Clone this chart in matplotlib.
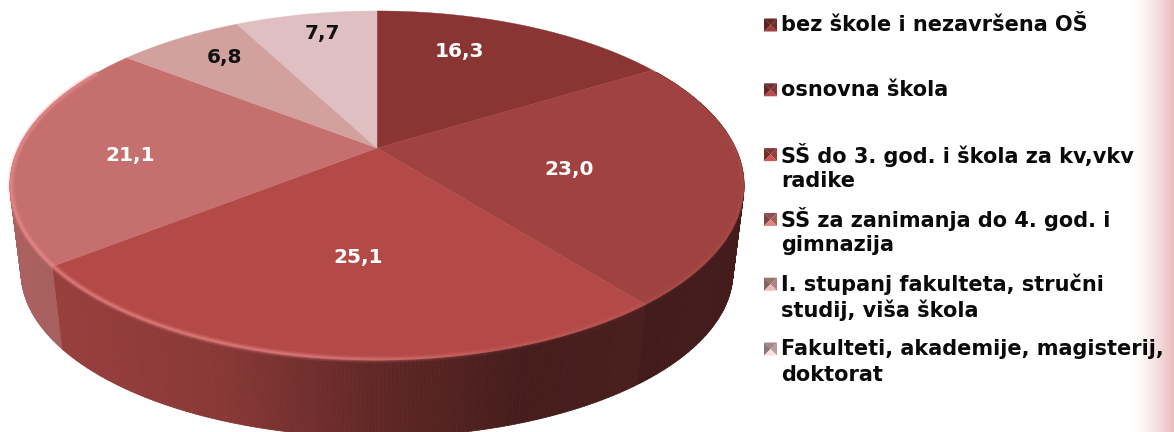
import numpy as np
import matplotlib
matplotlib.use('Agg')
import matplotlib.pyplot as plt
from matplotlib.patches import Polygon
from matplotlib.collections import PolyCollection, LineCollection

# data
kategorije = ['bez škole i nezavršena OŠ',
              'osnovna škola',
              'SŠ do 3. god. i škola za kv,vkv\nradike',
              'SŠ za zanimanja do 4. god. i\ngimnazija',
              'I. stupanj fakulteta, stručni\nstudij, viša škola',
              'Fakulteti, akademije, magisterij,\ndoktorat']
postotci = [16.3, 23.0, 25.1, 21.1, 6.8, 7.7]
oznake = ['16,3', '23,0', '25,1', '21,1', '6,8', '7,7']

# styles
boje = ['#8A3534', '#A04240', '#B44A48', '#C5706E', '#D2A19E', '#DFBFC1']
boje_oznaka = ['white', 'white', 'white', 'white', '#111111', '#111111']
oznake_xy = [(459, 51), (569, 169), (358, 258), (130, 156), (225, 57), (322, 34)]


def rim(kut, cy, R, S, r=1.0, k=0.215, cx=377):
    # perspective projection of a disc, kut in degrees clockwise from top
    t = np.radians(kut)
    u = r * np.sin(t)
    v = -r * np.cos(t)
    w = 1 - k * v
    return cx + R * u / w, cy + S * v / w


def gornji(kut):
    return rim(kut, 148, 358.4, 166.5)


def donji(kut):
    return rim(kut, 236.5, 347.6, 157.4)


def rgb(c, f=1.0):
    return np.clip(np.array(matplotlib.colors.to_rgb(c)) * f, 0, 1)


fig = plt.figure(figsize=(11.74, 4.32), dpi=100)
ax = fig.add_axes([0, 0, 1, 1])
ax.set_xlim(0, 1174)
ax.set_ylim(432, 0)
ax.axis('off')

# pink band on right edge
grad = np.linspace(0, 1, 64).reshape(1, -1) ** 1.3
band = np.ones((1, 64, 3)) * (1 - grad[..., None] * (1 - np.array([0.92, 0.74, 0.75])))
ax.imshow(band, extent=(1133, 1174, 432, 0), aspect='auto', zorder=0)
ax.set_xlim(0, 1174)
ax.set_ylim(432, 0)

granice = np.cumsum([0] + postotci) * 3.6

# side of the pie
poly = []
cols = []
for i in range(len(postotci)):
    n = max(int((granice[i + 1] - granice[i]) * 2), 2)
    kutovi = np.linspace(granice[i], granice[i + 1], n + 1)
    for a, b in zip(kutovi[:-1], kutovi[1:]):
        if a > 300 or b < 60:
            continue
        x1, y1 = gornji(a)
        x2, y2 = gornji(b)
        x3, y3 = donji(b)
        x4, y4 = donji(a)
        poly.append([(x1, y1), (x2, y2), (x3, y3), (x4, y4)])
        f = np.interp((x1 + x2) / 2, [10, 60, 220, 380, 520, 745],
                      [0.87, 0.84, 0.76, 0.53, 0.39, 0.42])
        cols.append(rgb(boje[i], f))
ax.add_collection(PolyCollection(poly, facecolors=cols, edgecolors=cols, linewidths=0.6, zorder=1))

# top of the pie
for i in range(len(postotci)):
    kutovi = np.linspace(granice[i], granice[i + 1], 120)
    x, y = gornji(kutovi)
    xy = np.column_stack([np.r_[377, x], np.r_[148, y]])
    ax.add_patch(Polygon(xy, closed=True, facecolor=boje[i], edgecolor=boje[i], linewidth=0.3, zorder=2))

# light edge along the front rim
for sirina, jacina in [(5.0, 0.18), (3.0, 0.3), (1.5, 0.35)]:
    kutovi = np.linspace(85, 300, 400)
    for r_pom in [0.997]:
        x, y = rim(kutovi, 148, 358.4, 166.5, r=r_pom)
    seg = [[(x[j], y[j]), (x[j + 1], y[j + 1])] for j in range(len(x) - 1)]
    alfa = jacina * np.interp(x[:-1], [10, 300, 500, 745], [1.0, 0.9, 0.25, 0.1])
    c = np.zeros((len(seg), 4))
    c[:, :3] = matplotlib.colors.to_rgb('#F09090')
    c[:, 3] = alfa
    ax.add_collection(LineCollection(seg, colors=c, linewidths=sirina, zorder=3))

# value labels
for t, (x, y), c in zip(oznake, oznake_xy, boje_oznaka):
    ax.text(x, y, t, color=c, fontsize=14.5, fontweight='bold', ha='center', va='center', zorder=5)

# legend
for i, (naziv, c) in enumerate(zip(kategorije, boje)):
    my = 25 + i * 64.8
    x0, x1 = 764, 777
    y0, y1 = my - 6.5, my + 6.5
    xs, ys = (x0 + x1) / 2, my
    for tr, f in [([(x0, y0), (x1, y0), (xs, ys)], 0.72),
                  ([(x0, y0), (x0, y1), (xs, ys)], 0.62),
                  ([(x1, y0), (x1, y1), (xs, ys)], 0.82),
                  ([(x0, y1), (x1, y1), (xs, ys)], 1.15)]:
        ax.add_patch(Polygon(tr, closed=True, facecolor=rgb(c, f), edgecolor='none', zorder=4))
    for j, red in enumerate(naziv.split('\n')):
        ax.text(781, my + j * 26, red, color='#0a0a0a', fontsize=15, fontweight='bold',
                ha='left', va='center', zorder=5)

fig.savefig('out.png', dpi=100)
